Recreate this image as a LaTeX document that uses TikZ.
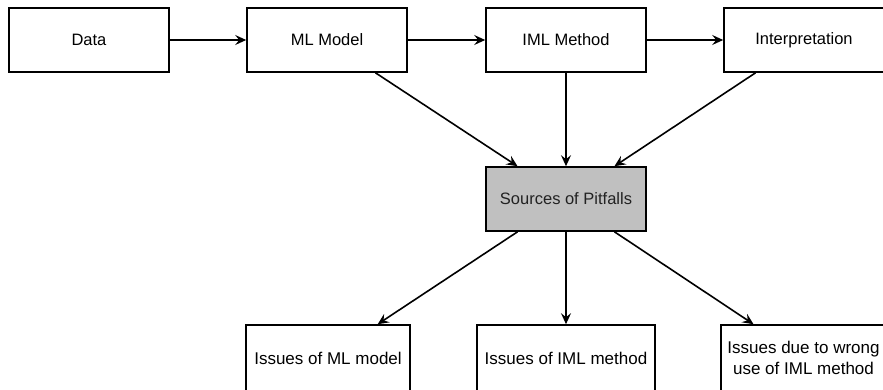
\documentclass[tikz,border=0pt]{standalone}
\usepackage{fontspec}
\setmainfont{Liberation Sans}
\usetikzlibrary{arrows.meta,calc}
\begin{document}
\begin{tikzpicture}[x=1bp,y=-1bp,
  box/.style={draw=black,line width=1.6bp,fill=white,rectangle,inner sep=0pt,
    minimum width=160bp,minimum height=64bp,align=center,
    font=\fontsize{16.5bp}{20.5bp}\selectfont},
  srcbox/.style={box,fill={rgb,255:red,192;green,192;blue,192},text={rgb,255:red,34;green,34;blue,34}},
  lowbox/.style={box,minimum height=66bp,font=\fontsize{17bp}{21bp}\selectfont},
  conn/.style={line width=1.6bp,-{Stealth[length=11bp,width=10bp,inset=4bp]}}
]
\useasboundingbox (0,0) rectangle (883,389);
\node[box] (data) at (89,40) {Data};
\node[box] (ml) at (327,40) {ML Model};
\node[box] (iml) at (566,40) {IML Method};
\node[box] (interp) at (804,40) {Interpretation};
\node[srcbox] (src) at (566,199) {Sources of Pitfalls};
\node[lowbox,minimum width=164bp] (iml1) at (328,358) {Issues of ML model};
\node[lowbox,minimum width=178bp] (iml2) at (566,358) {Issues of IML method};
\node[lowbox,minimum width=165bp] (iml3) at (803.5,358) {Issues due to wrong\\use of IML method};
\draw[conn] (data.east) -- (ml.west);
\draw[conn] (ml.east) -- (iml.west);
\draw[conn] (iml.east) -- (interp.west);
\draw[conn] ($(ml.south west)!0.8!(ml.south east)$) -- ($(src.north west)!0.2!(src.north east)$);
\draw[conn] (iml.south) -- (src.north);
\draw[conn] ($(interp.south west)!0.2!(interp.south east)$) -- ($(src.north west)!0.8!(src.north east)$);
\draw[conn] ($(src.south west)!0.2!(src.south east)$) -- ($(iml1.north west)!0.8!(iml1.north east)$);
\draw[conn] (src.south) -- (iml2.north);
\draw[conn] ($(src.south west)!0.8!(src.south east)$) -- ($(iml3.north west)!0.2!(iml3.north east)$);
\end{tikzpicture}
\end{document}
